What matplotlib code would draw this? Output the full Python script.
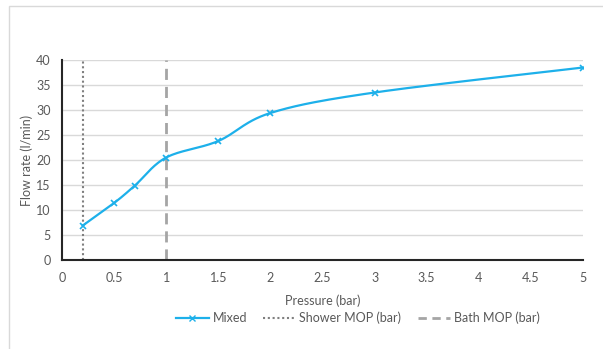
import numpy as np
import matplotlib.pyplot as plt
from matplotlib.patches import Rectangle
from matplotlib.lines import Line2D

pressure = [0.2, 0.5, 0.7, 1.0, 1.5, 2.0, 3.0, 5.0]
flow_mixed = [6.9, 11.4, 14.9, 20.5, 23.8, 29.4, 33.5, 38.5]
shower_mop = 0.2
bath_mop = 1.0

x_ticks = [0, 0.5, 1, 1.5, 2, 2.5, 3, 3.5, 4, 4.5, 5]
y_ticks = [0, 5, 10, 15, 20, 25, 30, 35, 40]

blue = "#1DB0EA"
grey_text = "#595959"

plt.rcParams["font.family"] = ["Lato", "DejaVu Sans"]


def smooth(xs, ys, n=30):
    # bezier smoothing like the office chart line
    pts = np.column_stack([xs, ys])
    p = np.vstack([pts[0], pts, pts[-1]])
    out = []
    for i in range(1, len(p) - 2):
        p0, p1, p2, p3 = p[i - 1], p[i], p[i + 1], p[i + 2]
        c1 = p1 + (p2 - p0) / 6
        c2 = p2 - (p3 - p1) / 6
        t = np.linspace(0, 1, n)[:, None]
        seg = ((1 - t) ** 3 * p1 + 3 * (1 - t) ** 2 * t * c1
               + 3 * (1 - t) * t ** 2 * c2 + t ** 3 * p2)
        out.append(seg)
    out = np.vstack(out)
    return out[:, 0], out[:, 1]


fig = plt.figure(figsize=(6.03, 3.49), dpi=100)
fig.patches.append(Rectangle((9 / 603, -0.1), 1.2, 1.1 - 6 / 349,
                             transform=fig.transFigure, fill=False,
                             edgecolor="#D9D9D9", linewidth=1.0))
ax = fig.add_axes([62 / 603, 89 / 349, 521 / 603, 200 / 349])

sx, sy = smooth(pressure, flow_mixed)
ax.plot(sx, sy, color=blue, linewidth=1.6, zorder=3)
ax.plot(pressure, flow_mixed, linestyle="none", marker="x", color=blue,
        markersize=5, markeredgewidth=1.2, zorder=4)

ax.plot([shower_mop, shower_mop], [0, 40], color="#7F7F7F", linewidth=1.5,
        linestyle=(0, (1, 1.3)), zorder=2)
ax.plot([bath_mop, bath_mop], [0, 40], color="#A5A5A5", linewidth=2,
        linestyle=(0, (4, 2.5)), zorder=2)

ax.set_xlim(0, 5)
ax.set_ylim(0, 40)
ax.set_xticks(x_ticks)
ax.set_xticklabels([f"{v:g}" for v in x_ticks])
ax.set_yticks(y_ticks)
ax.grid(axis="y", color="#D9D9D9", linewidth=1)
ax.set_axisbelow(True)
for s in ["top", "right"]:
    ax.spines[s].set_visible(False)
ax.spines["left"].set_color("#262626")
ax.spines["bottom"].set_color("#262626")
ax.spines["left"].set_linewidth(1.5)
ax.spines["bottom"].set_linewidth(1.5)
ax.tick_params(axis="y", length=0, labelsize=9, colors=grey_text, pad=8)
ax.tick_params(axis="x", length=0, labelsize=9, colors=grey_text, pad=9)

ax.set_xlabel("Pressure (bar)", fontsize=9, color=grey_text, labelpad=7)
ax.set_ylabel("Flow rate (l/min)", fontsize=9, color=grey_text, labelpad=2)

handles = [
    Line2D([], [], color=blue, linewidth=1.6, marker="x", markersize=5),
    Line2D([], [], color="#7F7F7F", linewidth=1.5, linestyle=(0, (1, 1.3))),
    Line2D([], [], color="#A5A5A5", linewidth=2, linestyle=(0, (3, 2))),
]
fig.legend(handles, ["Mixed", "Shower MOP (bar)", "Bath MOP (bar)"],
           loc="center", bbox_to_anchor=(358 / 603, 1 - 318 / 349), ncol=3,
           frameon=False, fontsize=9, labelcolor=grey_text,
           handlelength=2.6, handletextpad=0.3, columnspacing=1.3)

fig.savefig("out.png", dpi=100)
